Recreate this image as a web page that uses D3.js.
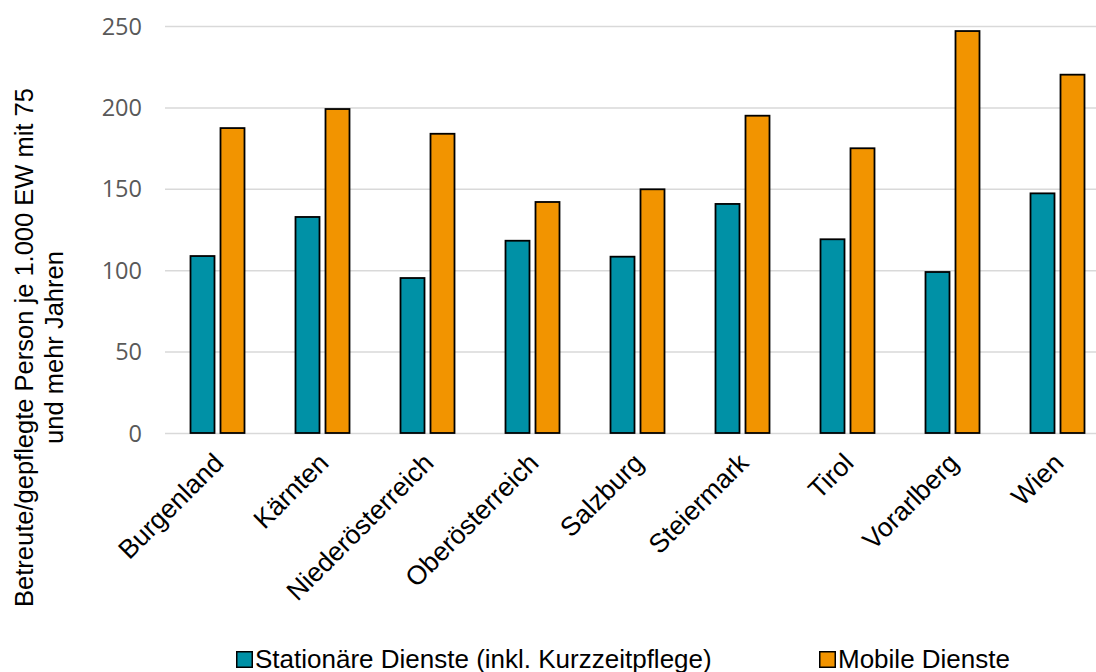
<!DOCTYPE html>
<html>
<head>
<meta charset="utf-8">
<script src="https://cdn.jsdelivr.net/npm/d3@7"></script>
<style>
  html, body { margin: 0; padding: 0; background: #fff; overflow: hidden; }
  svg { display: block; }
</style>
</head>
<body>
<svg id="chart" width="1096" height="672"></svg>
<script>
const categories = ["Burgenland", "Kärnten", "Niederösterreich", "Oberösterreich", "Salzburg", "Steiermark", "Tirol", "Vorarlberg", "Wien"];
const seriesNames = ["Stationäre Dienste (inkl. Kurzzeitpflege)", "Mobile Dienste"];
const stationaer = [108.7, 132.7, 95.2, 118.1, 108.3, 140.7, 119.0, 98.9, 147.2];
const mobil = [187.3, 199.0, 183.8, 141.9, 149.7, 194.9, 174.9, 246.9, 220.1];
const yTicks = [0, 50, 100, 150, 200, 250];
const yTitleLines = ["Betreute/gepflegte Person je 1.000 EW mit 75", "und mehr Jahren"];
const colors = ["#0091A6", "#F29400"];

const svg = d3.select("#chart");
const plot = { left: 165, right: 1110, top: 26, bottom: 433 };

const x = d3.scaleBand().domain(categories).range([plot.left, plot.right]).paddingInner(0).paddingOuter(0);
const y = d3.scaleLinear().domain([0, 250]).range([plot.bottom, plot.top]);
const xs = d3.scaleBand().domain([0, 1]).range([x.bandwidth() / 2 - 27, x.bandwidth() / 2 + 27]).paddingInner(0.2).paddingOuter(0);

// gridlines
const yAxis = d3.axisLeft(y).tickValues(yTicks).tickSize(-(plot.right - plot.left)).tickPadding(23);
const gy = svg.append("g").attr("transform", `translate(${plot.left},0)`).call(yAxis);
gy.select(".domain").remove();
gy.selectAll(".tick line").attr("stroke", "#d9d9d9").attr("stroke-width", 1.5);
gy.selectAll(".tick text")
  .attr("fill", "#595959")
  .style("font-family", "'Open Sans', 'Noto Sans', sans-serif")
  .style("font-size", "23.5px")
  .attr("dy", "0.34em");

// bars
const data = categories.map((c, i) => ({ c, vals: [stationaer[i], mobil[i]] }));
const groups = svg.append("g").selectAll("g").data(data).join("g")
  .attr("transform", d => `translate(${x(d.c)},0)`);
groups.selectAll("rect").data(d => d.vals.map((v, k) => ({ v, k }))).join("rect")
  .attr("x", d => xs(d.k))
  .attr("width", xs.bandwidth())
  .attr("y", d => y(d.v))
  .attr("height", d => y(0) - y(d.v))
  .attr("fill", d => colors[d.k])
  .attr("stroke", "#000")
  .attr("stroke-width", 1.8);

// category labels
svg.append("g").selectAll("text").data(categories).join("text")
  .attr("transform", d => `translate(${x(d) + x.bandwidth() / 2 + 1},458) rotate(-45)`)
  .attr("text-anchor", "end")
  .attr("dy", "0.35em")
  .style("font-family", "'Liberation Sans', Arial, sans-serif")
  .style("font-size", "26.5px")
  .attr("fill", "#000")
  .text(d => d);

// y title
const yt = svg.append("text")
  .attr("transform", "translate(0,347.5) rotate(-90)")
  .attr("text-anchor", "middle")
  .style("font-family", "'Liberation Sans', Arial, sans-serif")
  .style("font-size", "25.5px")
  .attr("fill", "#000");
yt.selectAll("tspan").data(yTitleLines).join("tspan")
  .attr("x", 0)
  .attr("y", (d, i) => 33 + i * 30)
  .text(d => d);

// legend
const legendX = [236, 819];
const lg = svg.append("g").selectAll("g").data(seriesNames).join("g")
  .attr("transform", (d, i) => `translate(${legendX[i]},651)`);
lg.append("rect").attr("x", 0.75).attr("y", 0.75).attr("width", 15.5).attr("height", 15.5)
  .attr("fill", (d, i) => colors[i]).attr("stroke", "#000").attr("stroke-width", 1.5);
lg.append("text").attr("x", 19).attr("y", 16.5)
  .style("font-family", "'Liberation Sans', Arial, sans-serif")
  .style("font-size", "26px")
  .attr("fill", "#000")
  .text(d => d);
</script>
</body>
</html>
